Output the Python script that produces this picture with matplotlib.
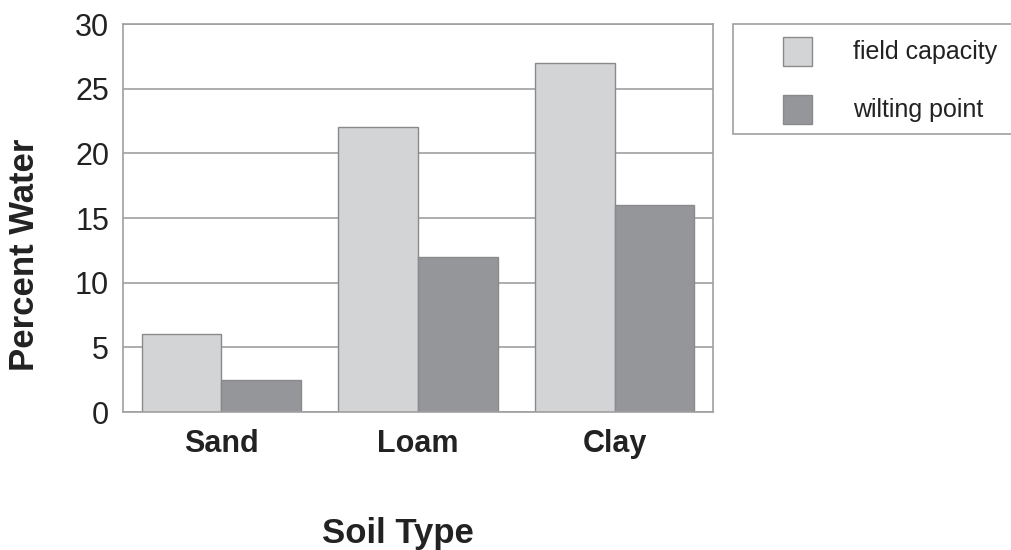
import numpy as np
import matplotlib
matplotlib.use('Agg')
import matplotlib.pyplot as plt
from matplotlib.patches import Rectangle

plt.rcParams['font.family'] = ['Liberation Sans', 'DejaVu Sans']

soils = ['Sand', 'Loam', 'Clay']
field_capacity = [6, 22, 27]
wilting_point = [2.5, 12, 16]
series_names = ['field capacity', 'wilting point']
yticks = [0, 5, 10, 15, 20, 25, 30]

light = '#d3d4d6'
dark = '#95969a'
edge = '#8a8a8a'
txt = '#222222'

W, H = 1011, 550
fig = plt.figure(figsize=(W / 100, H / 100), dpi=100)
ax = fig.add_axes([123 / W, 1 - 412 / H, 590 / W, 388 / H])

x = np.arange(len(soils))
bw = 0.405
ax.bar(x - bw / 2, field_capacity, bw, color=light, edgecolor=edge, linewidth=1, zorder=3)
ax.bar(x + bw / 2, wilting_point, bw, color=dark, edgecolor=edge, linewidth=1, zorder=3)

ax.set_xlim(-0.5, 2.5)
ax.set_ylim(0, 30)
ax.set_yticks(yticks)
ax.set_yticklabels([str(t) for t in yticks], fontsize=22, color=txt)
ax.set_xticks(x)
ax.set_xticklabels(soils, fontsize=22, fontweight='bold', color=txt)
ax.tick_params(axis='y', length=0, pad=10)
ax.tick_params(axis='x', length=0, pad=12)
ax.grid(axis='y', color='#a0a0a0', linewidth=1.2, zorder=0)
for s in ax.spines.values():
    s.set_color('#a0a0a0')
    s.set_linewidth(1.2)
ax.spines['bottom'].set_zorder(4)

fig.text(25 / W, 1 - 255 / H, 'Percent Water', fontsize=25, fontweight='bold', color=txt,
         rotation=90, ha='center', va='center')
fig.text(398 / W, 1 - 533 / H, 'Soil Type', fontsize=25, fontweight='bold', color=txt,
         ha='center', va='center')

# legend drawn by hand (frame runs off the right edge)
fig.patches.append(Rectangle((733 / W, 1 - 134 / H), 290 / W, 110 / H, transform=fig.transFigure,
                             facecolor='white', edgecolor='#a0a0a0', linewidth=1.2))
for i, (name, c) in enumerate(zip(series_names, [light, dark])):
    yc = 52 + i * 58
    fig.patches.append(Rectangle((783 / W, 1 - (yc + 14) / H), 29 / W, 29 / H,
                                 transform=fig.transFigure, facecolor=c, edgecolor=edge, linewidth=1))
    fig.text(853 / W, 1 - yc / H, name, fontsize=18, color=txt, va='center', ha='left')

fig.savefig('out.png', dpi=100)
